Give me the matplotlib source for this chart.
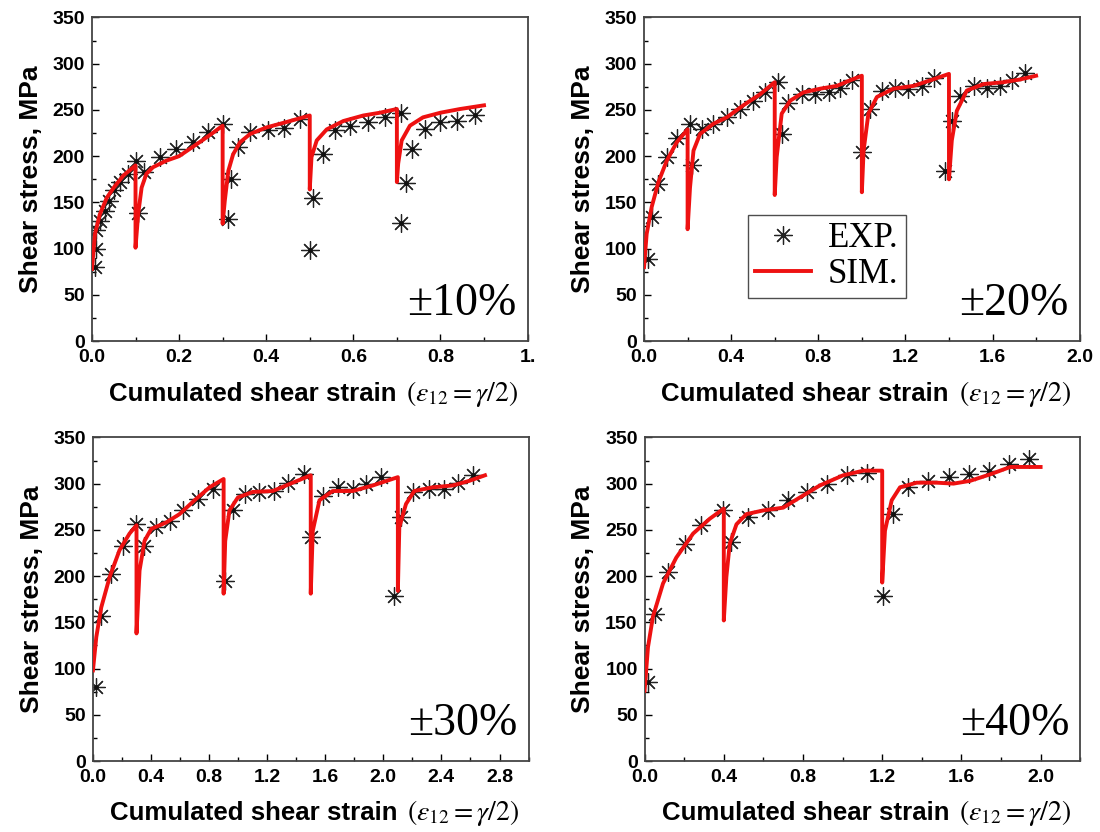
import matplotlib
matplotlib.use("Agg")
import matplotlib.pyplot as plt
from matplotlib.ticker import MultipleLocator, FixedLocator, FixedFormatter

plt.rcParams['font.family'] = ['Liberation Sans', 'DejaVu Sans']
plt.rcParams['mathtext.fontset'] = 'stix'

# ---------------- data: +/-10 % ----------------
exp10_x = [0.007, 0.01, 0.01, 0.018, 0.03, 0.04, 0.05, 0.064, 0.083, 0.10, 0.12, 0.106,
           0.156, 0.194, 0.233, 0.267, 0.30, 0.313, 0.32, 0.336, 0.363, 0.405, 0.44, 0.477,
           0.50, 0.508, 0.531, 0.558, 0.592, 0.634, 0.673, 0.71, 0.71, 0.722, 0.734, 0.764,
           0.80, 0.837, 0.879]
exp10_y = [80, 100, 120, 130, 141, 152, 163, 172, 181, 195, 183, 139,
           199, 208, 215, 226, 235, 132, 175, 210, 226, 228, 231, 240,
           98, 155, 202, 228, 233, 237, 242, 247, 128, 171, 208, 229,
           237, 238, 244]
sim10_x = [0.0, 0.007, 0.018, 0.034, 0.05, 0.072, 0.1, 0.1,
           0.106, 0.114, 0.125, 0.14, 0.17, 0.2, 0.225, 0.256, 0.28, 0.3, 0.3,
           0.305, 0.313, 0.324, 0.34, 0.363, 0.40, 0.447, 0.5, 0.5,
           0.504, 0.516, 0.539, 0.577, 0.623, 0.661, 0.7, 0.7,
           0.703, 0.711, 0.73, 0.76, 0.8, 0.845, 0.9]
sim10_y = [78, 116, 137, 155, 166, 179, 190, 101,
           137, 166, 181, 188, 195, 200, 208, 218, 226, 233, 127,
           152, 184, 202, 215, 224, 231, 237, 244, 164,
           199, 217, 229, 238, 244, 247, 251, 172,
           192, 217, 233, 242, 247, 251, 255]

# ---------------- data: +/-20 % ----------------
exp20_x = [0.02, 0.035, 0.066, 0.104, 0.15, 0.211, 0.219, 0.265, 0.318, 0.38, 0.441, 0.502,
           0.556, 0.617, 0.632, 0.663, 0.724, 0.786, 0.847, 0.90, 0.954, 1.0, 1.038, 1.092,
           1.153, 1.214, 1.276, 1.329, 1.383, 1.413, 1.452, 1.513, 1.574, 1.635, 1.689, 1.75]
exp20_y = [89, 134, 170, 199, 220, 235, 190, 229, 235, 242, 251, 260,
           269, 280, 224, 258, 267, 267, 269, 274, 282, 204, 251, 271,
           274, 273, 276, 285, 184, 238, 265, 276, 274, 276, 282, 290]
sim20_x = [0.0, 0.012, 0.035, 0.066, 0.104, 0.15, 0.2, 0.2,
           0.211, 0.227, 0.257, 0.318, 0.38, 0.456, 0.533, 0.6, 0.6,
           0.609, 0.632, 0.671, 0.732, 0.809, 0.885, 0.946, 1.0, 1.0,
           1.008, 1.03, 1.069, 1.145, 1.237, 1.314, 1.4, 1.4,
           1.413, 1.436, 1.482, 1.559, 1.651, 1.727, 1.8]
sim20_y = [80, 116, 145, 172, 195, 215, 229, 121,
           166, 206, 224, 235, 242, 255, 267, 280, 158,
           199, 246, 260, 269, 273, 276, 282, 287, 161,
           206, 246, 264, 273, 276, 282, 289, 175,
           217, 249, 271, 278, 280, 283, 287]

# ---------------- data: +/-30 % ----------------
exp30_x = [0.023, 0.057, 0.126, 0.206, 0.298, 0.355, 0.436, 0.528, 0.619, 0.722, 0.826,
           0.906, 0.963, 1.044, 1.147, 1.25, 1.342, 1.456, 1.502, 1.583, 1.686, 1.789,
           1.881, 1.984, 2.076, 2.122, 2.202, 2.317, 2.42, 2.511, 2.615]
exp30_y = [80, 157, 202, 233, 256, 233, 253, 260, 272, 283, 294,
           195, 271, 289, 291, 292, 301, 310, 242, 287, 296, 294,
           300, 307, 179, 264, 291, 294, 294, 301, 309]
sim30_x = [0.0, 0.023, 0.057, 0.115, 0.183, 0.252, 0.3, 0.3,
           0.321, 0.355, 0.401, 0.505, 0.596, 0.7, 0.803, 0.9, 0.9,
           0.911, 0.94, 0.998, 1.1, 1.239, 1.376, 1.5, 1.5,
           1.514, 1.56, 1.651, 1.789, 1.927, 2.1, 2.1,
           2.11, 2.156, 2.213, 2.339, 2.477, 2.592, 2.7]
sim30_y = [98, 134, 166, 199, 228, 246, 255, 138,
           206, 238, 251, 258, 267, 282, 296, 305, 181,
           238, 271, 285, 291, 292, 301, 309, 181,
           249, 282, 292, 292, 298, 307, 184,
           253, 278, 292, 296, 298, 303, 309]

# ---------------- data: +/-40 % ----------------
exp40_x = [0.017, 0.051, 0.118, 0.202, 0.287, 0.396, 0.438, 0.523, 0.624, 0.725, 0.818,
           0.919, 1.02, 1.121, 1.206, 1.256, 1.332, 1.433, 1.535, 1.636, 1.737, 1.838, 1.939]
exp40_y = [85, 159, 204, 235, 255, 271, 237, 264, 271, 282, 291,
           300, 309, 312, 179, 267, 296, 303, 307, 310, 314, 321, 327]
sim40_x = [0.0, 0.017, 0.042, 0.093, 0.16, 0.245, 0.329, 0.4, 0.4,
           0.413, 0.43, 0.464, 0.514, 0.599, 0.7, 0.784, 0.885, 1.003, 1.105, 1.2, 1.2,
           1.214, 1.248, 1.29, 1.374, 1.475, 1.56, 1.644, 1.745, 1.847, 2.0]
sim40_y = [76, 123, 156, 192, 220, 246, 262, 273, 152,
           199, 235, 256, 267, 271, 274, 285, 298, 309, 314, 314, 193,
           249, 282, 296, 301, 301, 300, 303, 310, 318, 318]

panels = [
    dict(ex=exp10_x, ey=exp10_y, sx=sim10_x, sy=sim10_y, label="\u00b110%",
         xmax=1.0, major=[0.0, 0.2, 0.4, 0.6, 0.8, 1.0],
         ticklabels=["0.0", "0.2", "0.4", "0.6", "0.8", "1."], minor=0.1,
         rect=[0.0836, 0.590, 0.396, 0.389]),
    dict(ex=exp20_x, ey=exp20_y, sx=sim20_x, sy=sim20_y, label="\u00b120%",
         xmax=2.0, major=[0.0, 0.4, 0.8, 1.2, 1.6, 2.0],
         ticklabels=["0.0", "0.4", "0.8", "1.2", "1.6", "2.0"], minor=0.2,
         rect=[0.5855, 0.590, 0.396, 0.389]),
    dict(ex=exp30_x, ey=exp30_y, sx=sim30_x, sy=sim30_y, label="\u00b130%",
         xmax=3.0, major=[0.0, 0.4, 0.8, 1.2, 1.6, 2.0, 2.4, 2.8],
         ticklabels=["0.0", "0.4", "0.8", "1.2", "1.6", "2.0", "2.4", "2.8"], minor=0.2,
         rect=[0.0845, 0.0853, 0.396, 0.389]),
    dict(ex=exp40_x, ey=exp40_y, sx=sim40_x, sy=sim40_y, label="\u00b140%",
         xmax=2.2, major=[0.0, 0.4, 0.8, 1.2, 1.6, 2.0],
         ticklabels=["0.0", "0.4", "0.8", "1.2", "1.6", "2.0"], minor=0.2,
         rect=[0.586, 0.0853, 0.396, 0.389]),
]

fig = plt.figure(figsize=(11, 8.32), dpi=100)
asterisk = (8, 2, 0)
serif = ['Liberation Serif', 'DejaVu Serif']

for i, p in enumerate(panels):
    ax = fig.add_axes(p['rect'])
    exp_line, = ax.plot(p['ex'], p['ey'], linestyle='none', marker=asterisk, markersize=13,
                        markeredgewidth=0.9, color='#222222', zorder=2)
    ax.plot(p['ex'], p['ey'], linestyle='none', marker='o', markersize=2,
            color='#111111', zorder=2)
    sim_line, = ax.plot(p['sx'], p['sy'], color='#ee1111', linewidth=2.8, zorder=3)
    ax.set_xlim(0, p['xmax'])
    ax.set_ylim(0, 350)
    ax.xaxis.set_major_locator(FixedLocator(p['major']))
    ax.xaxis.set_major_formatter(FixedFormatter(p['ticklabels']))
    ax.xaxis.set_minor_locator(MultipleLocator(p['minor']))
    ax.yaxis.set_major_locator(MultipleLocator(50))
    ax.yaxis.set_minor_locator(MultipleLocator(25))
    ax.tick_params(which='both', direction='in', top=False, right=False)
    ax.tick_params(which='major', length=5, width=1.0, labelsize=14)
    ax.tick_params(axis='y', which='major', pad=5)
    ax.tick_params(axis='x', which='major', pad=6)
    ax.tick_params(which='minor', length=3, width=1.0)
    for lab in ax.get_xticklabels() + ax.get_yticklabels():
        lab.set_fontweight('bold')
    for s in ax.spines.values():
        s.set_color('#444444')
        s.set_linewidth(1.3)
    ax.set_ylabel('Shear stress, MPa', fontsize=19, fontweight='bold', labelpad=7)
    ax.text(0.70, -0.162, 'Cumulated shear strain', transform=ax.transAxes,
            ha='right', va='center', fontsize=18.6, fontweight='bold')
    ax.text(0.722, -0.162, '$(\\varepsilon_{12}=\\gamma/2)$', transform=ax.transAxes,
            ha='left', va='center', fontsize=20)
    ax.text(0.975, 0.05, p['label'], transform=ax.transAxes, ha='right', va='bottom',
            fontsize=33, family=serif)
    if i == 1:
        leg = ax.legend([exp_line, sim_line], ['EXP.', 'SIM.'],
                        loc='lower left', bbox_to_anchor=(0.239, 0.133),
                        borderaxespad=0.0,
                        prop={'family': serif, 'size': 25},
                        frameon=True, fancybox=False, edgecolor='#222222',
                        handlelength=1.6, handletextpad=0.5, borderpad=0.2,
                        labelspacing=0.1)
        leg.get_frame().set_linewidth(1.0)

fig.savefig('out.png', dpi=100)
